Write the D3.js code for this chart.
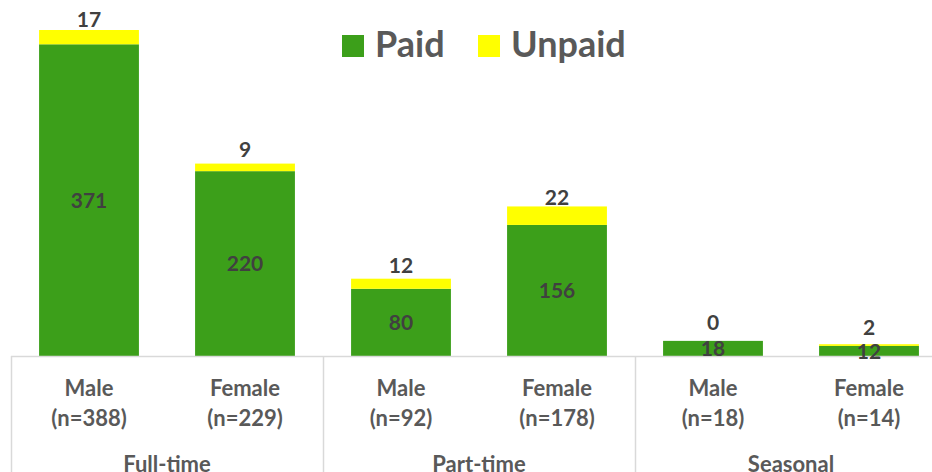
<!DOCTYPE html>
<html>
<head>
<meta charset="utf-8">
<script src="https://cdnjs.cloudflare.com/ajax/libs/d3/7.8.5/d3.min.js"></script>
<style>
  body { margin: 0; background: #fff; }
  text { font-family: Lato, "Open Sans", sans-serif; font-weight: bold; }
</style>
</head>
<body>
<svg id="chart"></svg>
<script>
var groups = ['Full-time', 'Part-time', 'Seasonal'];
var genders = ['Male', 'Female', 'Male', 'Female', 'Male', 'Female'];
var nLabels = ['(n=388)', '(n=229)', '(n=92)', '(n=178)', '(n=18)', '(n=14)'];
var paid = [371, 220, 80, 156, 18, 12];
var unpaid = [17, 9, 12, 22, 0, 2];

var width = 932, height = 472;
var base = 356;
var green = '#3c9f1a', yellow = '#ffff00';

var svg = d3.select('#chart').attr('width', width).attr('height', height);

var keys = d3.range(paid.length);
var x = d3.scaleBand().domain(keys).range([11, 11 + 156 * 6]).paddingInner(0.36).paddingOuter(0.18);
var y = d3.scaleLinear().domain([0, 388]).range([base, 30]);

var rows = keys.map(function(i) { return { i: i, paid: paid[i], unpaid: unpaid[i] }; });
var stack = d3.stack().keys(['paid', 'unpaid'])(rows);
var colors = { paid: green, unpaid: yellow };

// bars
svg.selectAll('g.layer')
  .data(stack).enter().append('g')
  .attr('class', 'layer')
  .attr('fill', function(d) { return colors[d.key]; })
  .selectAll('rect')
  .data(function(d) { return d; }).enter().append('rect')
  .attr('x', function(d) { return x(d.data.i); })
  .attr('width', x.bandwidth())
  .attr('y', function(d) { return y(d[1]); })
  .attr('height', function(d) { return y(d[0]) - y(d[1]); });

// axis lines
svg.append('line').attr('x1', 11).attr('x2', width).attr('y1', base + 0.5).attr('y2', base + 0.5)
  .attr('stroke', '#d9d9d9').attr('stroke-width', 1.5);
var step = x.step();
d3.range(groups.length).forEach(function(g) {
  var sx = 11 + g * step * 2;
  svg.append('line').attr('x1', sx + 0.5).attr('x2', sx + 0.5).attr('y1', base).attr('y2', height)
    .attr('stroke', '#d9d9d9').attr('stroke-width', 1.5);
});

// paid labels (inside)
svg.selectAll('text.paid')
  .data(rows).enter().append('text')
  .attr('x', function(d) { return x(d.i) + x.bandwidth() / 2; })
  .attr('y', function(d) { return (y(0) + y(d.paid)) / 2; })
  .attr('dy', '0.36em')
  .attr('text-anchor', 'middle')
  .attr('font-size', 21).attr('fill', '#404040')
  .text(function(d) { return d.paid; });

// unpaid labels (above the yellow segment)
svg.selectAll('text.unpaid')
  .data(rows).enter().append('text')
  .attr('x', function(d) { return x(d.i) + x.bandwidth() / 2; })
  .attr('y', function(d) { return (y(d.paid) + y(d.paid + d.unpaid)) / 2 - 18; })
  .attr('dy', '0.36em')
  .attr('text-anchor', 'middle')
  .attr('font-size', 21).attr('fill', '#404040')
  .text(function(d) { return d.unpaid; });

// category labels
keys.forEach(function(i) {
  var cx = x(i) + x.bandwidth() / 2;
  svg.append('text').attr('x', cx).attr('y', 388).attr('dy', '0.36em')
    .attr('text-anchor', 'middle').attr('font-size', 22).attr('fill', '#595959').text(genders[i]);
  svg.append('text').attr('x', cx).attr('y', 418).attr('dy', '0.36em')
    .attr('text-anchor', 'middle').attr('font-size', 22).attr('fill', '#595959').text(nLabels[i]);
});
groups.forEach(function(g, k) {
  svg.append('text').attr('x', 11 + step * (2 * k + 1)).attr('y', 464).attr('dy', '0.36em')
    .attr('text-anchor', 'middle').attr('font-size', 22).attr('fill', '#595959').text(g);
});

// legend
var legend = [{ name: 'Paid', color: green, x: 342 }, { name: 'Unpaid', color: yellow, x: 478 }];
legend.forEach(function(l) {
  svg.append('rect').attr('x', l.x).attr('y', 35).attr('width', 22).attr('height', 22).attr('fill', l.color);
  svg.append('text').attr('x', l.x + 33).attr('y', 57).attr('font-size', 36).attr('fill', '#595959').text(l.name);
});
</script>
</body>
</html>
